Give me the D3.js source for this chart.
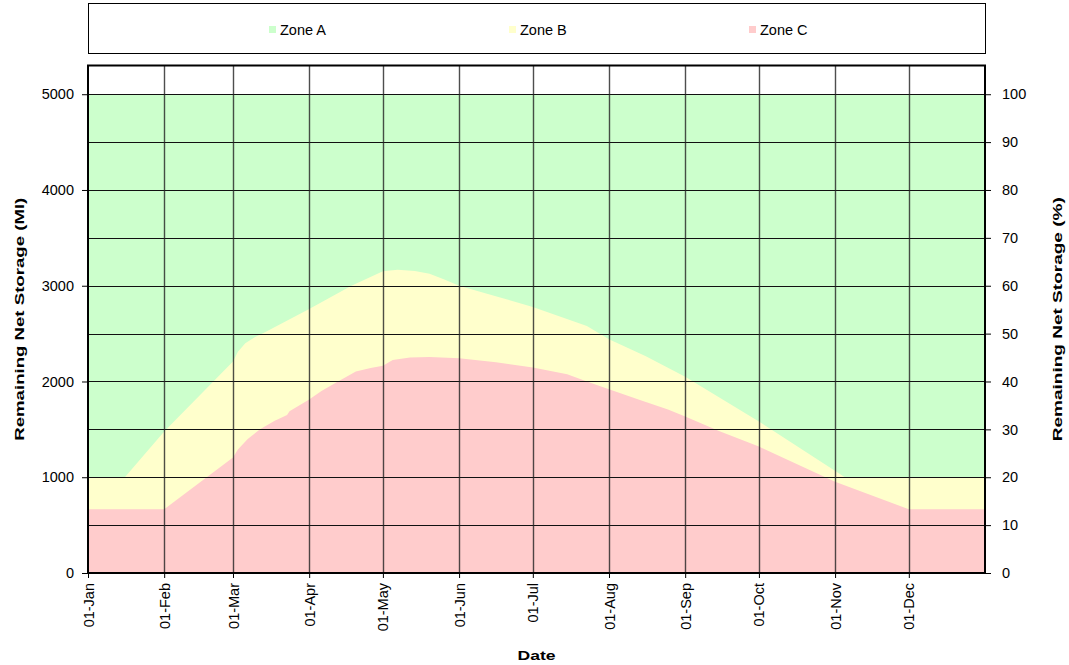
<!DOCTYPE html>
<html lang="en">
	<head>
		<meta charset="utf-8">
		<title>Remaining Net Storage zones</title>
        <script type="text/javascript" src="https://cdn.jsdelivr.net/npm/d3@7"></script>
		<style type="text/css">
            body { margin: 0; background: #fff; }
            text { font-family: "Liberation Sans", Arial, sans-serif; }
        </style>
	</head>
	<body>
        <script type="text/javascript">
            // zone boundaries (Ml), dates are day-month of one year
            var zoneNames = ["Zone A", "Zone B", "Zone C"];
            var zoneColors = ["#ccffcc", "#ffffcc", "#ffcccc"];

            var zoneADates = ["01-01", "12-31"];
            var zoneAValues = [5000, 5000];

            var zoneBDates = ["01-01", "01-16", "02-01", "03-01", "03-03", "03-06", "03-10", "03-14", "04-01",
                              "04-18", "05-01", "05-07", "05-14", "05-20", "05-26", "06-01", "06-17",
                              "07-01", "07-23", "08-01", "08-16", "09-01", "10-01", "11-05", "12-31"];
            var zoneBValues = [1000, 1000, 1478, 2210, 2310, 2400, 2465, 2515, 2757,
                               2998, 3150, 3166, 3155, 3124, 3065, 3000, 2883,
                               2778, 2579, 2442, 2264, 2050, 1583, 1000, 1000];

            var zoneCDates = ["01-01", "02-01", "03-01", "03-03", "03-07", "03-12", "03-18", "03-23",
                              "03-24", "04-01", "04-06", "04-12", "04-20", "04-26", "05-01", "05-05",
                              "05-12", "05-20", "06-01", "06-16", "07-01", "07-15", "07-23", "08-01",
                              "08-13", "08-25", "09-01", "09-15", "10-01", "11-01", "12-01", "12-31"];
            var zoneCValues = [665, 665, 1205, 1290, 1400, 1500, 1590, 1650,
                               1690, 1813, 1900, 1990, 2105, 2140, 2165, 2225,
                               2250, 2257, 2243, 2200, 2147, 2075, 2000, 1918,
                               1813, 1708, 1635, 1480, 1320, 954, 665, 665];

            var monthLabels = ["01-Jan", "01-Feb", "01-Mar", "01-Apr", "01-May", "01-Jun",
                               "01-Jul", "01-Aug", "01-Sep", "01-Oct", "01-Nov", "01-Dec"];

            var leftTicks = [0, 1000, 2000, 3000, 4000, 5000];
            var rightTicks = [0, 10, 20, 30, 40, 50, 60, 70, 80, 90, 100];
            var gridValues = [500, 1000, 1500, 2000, 2500, 3000, 3500, 4000, 4500, 5000];

            var yMax = 5300, fullStorage = 5000;

            var width = 1069, height = 665;
            var plot = {left: 88, right: 985, top: 65.5, bottom: 573};

            var parseDay = d3.timeParse("%Y-%m-%d");
            function toDate(s) { return parseDay("2023-" + s); }

            var zones = [
                {name: zoneNames[0], color: zoneColors[0], values: zoneADates.map(function(d, i) { return {date: toDate(d), value: zoneAValues[i]}; })},
                {name: zoneNames[1], color: zoneColors[1], values: zoneBDates.map(function(d, i) { return {date: toDate(d), value: zoneBValues[i]}; })},
                {name: zoneNames[2], color: zoneColors[2], values: zoneCDates.map(function(d, i) { return {date: toDate(d), value: zoneCValues[i]}; })}
            ];

            var svg = d3.select("body").append("svg")
                        .attr("width", width)
                        .attr("height", height);

            var xScale = d3.scaleTime()
                            .domain([toDate("01-01"), parseDay("2024-01-01")])
                            .range([plot.left, plot.right]);

            var yScale = d3.scaleLinear()
                            .domain([0, yMax])
                            .range([plot.bottom, plot.top]);

            var pctScale = d3.scaleLinear()
                            .domain([0, yMax / fullStorage * 100])
                            .range([plot.bottom, plot.top]);

            // areas (last day stretched to the end of the axis)
            var area = d3.area()
                        .x(function(d) { return xScale(d.date); })
                        .y0(yScale(0))
                        .y1(function(d) { return yScale(d.value); });

            zones.forEach(function(z) {
                var last = z.values[z.values.length - 1];
                z.values.push({date: d3.timeDay.offset(last.date, 1), value: last.value});
            });

            svg.append("g")
                .selectAll("path")
                .data(zones)
                .enter().append("path")
                .attr("d", function(d) { return area(d.values); })
                .attr("fill", function(d) { return d.color; });

            // grid
            svg.append("g")
                .selectAll("line")
                .data(gridValues)
                .enter().append("line")
                .attr("x1", plot.left)
                .attr("x2", plot.right)
                .attr("y1", function(d) { return Math.round(yScale(d)) + 0.5; })
                .attr("y2", function(d) { return Math.round(yScale(d)) + 0.5; })
                .attr("stroke", "#111")
                .attr("stroke-width", 1.2);

            var months = d3.timeMonth.range(toDate("02-01"), toDate("12-02"));
            svg.append("g")
                .selectAll("line")
                .data(months)
                .enter().append("line")
                .attr("x1", function(d) { return Math.round(xScale(d)) + 0.5; })
                .attr("x2", function(d) { return Math.round(xScale(d)) + 0.5; })
                .attr("y1", plot.top)
                .attr("y2", plot.bottom)
                .attr("stroke", "#222")
                .attr("stroke-width", 1.4)
                .attr("stroke-opacity", 0.8);

            // left axis
            var yAxis = d3.axisLeft(yScale)
                            .tickValues(leftTicks)
                            .tickSize(6)
                            .tickPadding(8)
                            .tickFormat(d3.format("d"));
            var yMinor = d3.axisLeft(yScale)
                            .tickValues(d3.range(0, yMax + 1, 200))
                            .tickSize(4)
                            .tickFormat("");

            var gLeft = svg.append("g").attr("transform", "translate(" + plot.left + ",0)");
            gLeft.call(yMinor);
            gLeft.call(yAxis);

            // right axis in percent
            var rAxis = d3.axisRight(pctScale)
                            .tickValues(rightTicks)
                            .tickSize(6)
                            .tickPadding(11);
            var rMinor = d3.axisRight(pctScale)
                            .tickValues(d3.range(0, 107, 1))
                            .tickSize(4)
                            .tickFormat("");
            var gRight = svg.append("g").attr("transform", "translate(" + plot.right + ",0)");
            gRight.call(rMinor);
            gRight.call(rAxis);

            // bottom axis
            var xMinor = d3.axisBottom(xScale)
                            .ticks(d3.timeDay.every(1))
                            .tickSize(3)
                            .tickFormat("");
            var xAxis = d3.axisBottom(xScale)
                            .tickValues(d3.timeMonth.range(toDate("01-01"), toDate("12-02")))
                            .tickSize(5)
                            .tickFormat(function(d, i) { return monthLabels[i]; });
            var gBottom = svg.append("g").attr("transform", "translate(0," + plot.bottom + ")");
            gBottom.call(xMinor);
            gBottom.call(xAxis);
            gBottom.selectAll(".tick text")
                .attr("transform", "rotate(-90)")
                .attr("text-anchor", "end")
                .attr("x", -10)
                .attr("y", 0)
                .attr("dy", "0.35em");

            svg.selectAll(".domain").remove();
            svg.selectAll(".tick line").attr("stroke", "#000");
            svg.selectAll(".tick text")
                .attr("fill", "#000")
                .attr("font-size", 14.5);

            // plot frame
            svg.append("rect")
                .attr("x", plot.left)
                .attr("y", plot.top)
                .attr("width", plot.right - plot.left)
                .attr("height", plot.bottom - plot.top)
                .attr("fill", "none")
                .attr("stroke", "#000")
                .attr("stroke-width", 2);

            // axis titles
            svg.append("text")
                .attr("transform", "translate(24," + ((plot.top + plot.bottom) / 2) + ") rotate(-90)")
                .attr("text-anchor", "middle")
                .attr("font-size", 13)
                .attr("font-weight", "bold")
                .attr("textLength", 243)
                .attr("lengthAdjust", "spacingAndGlyphs")
                .text("Remaining Net Storage (Ml)");

            svg.append("text")
                .attr("transform", "translate(1062," + ((plot.top + plot.bottom) / 2) + ") rotate(-90)")
                .attr("text-anchor", "middle")
                .attr("font-size", 13)
                .attr("font-weight", "bold")
                .attr("textLength", 244)
                .attr("lengthAdjust", "spacingAndGlyphs")
                .text("Remaining Net Storage (%)");

            svg.append("text")
                .attr("x", (plot.left + plot.right) / 2)
                .attr("y", 660)
                .attr("text-anchor", "middle")
                .attr("font-size", 13.5)
                .attr("font-weight", "bold")
                .attr("textLength", 38)
                .attr("lengthAdjust", "spacingAndGlyphs")
                .text("Date");

            // legend
            svg.append("rect")
                .attr("x", 88.5)
                .attr("y", 3.5)
                .attr("width", 897)
                .attr("height", 50)
                .attr("fill", "#fff")
                .attr("stroke", "#000")
                .attr("stroke-width", 1);

            var legend = svg.append("g")
                .selectAll("g")
                .data(zones)
                .enter().append("g")
                .attr("transform", function(d, i) {
                    return "translate(" + (269 + i * 240) + ",26)";
                });

            legend.append("rect")
                .attr("width", 7)
                .attr("height", 7)
                .attr("fill", function(d) { return d.color; });

            legend.append("text")
                .attr("x", 11)
                .attr("y", 3.5)
                .attr("dy", "0.35em")
                .attr("font-size", 14.5)
                .text(function(d) { return d.name; });
		</script>
	</body>
</html>
